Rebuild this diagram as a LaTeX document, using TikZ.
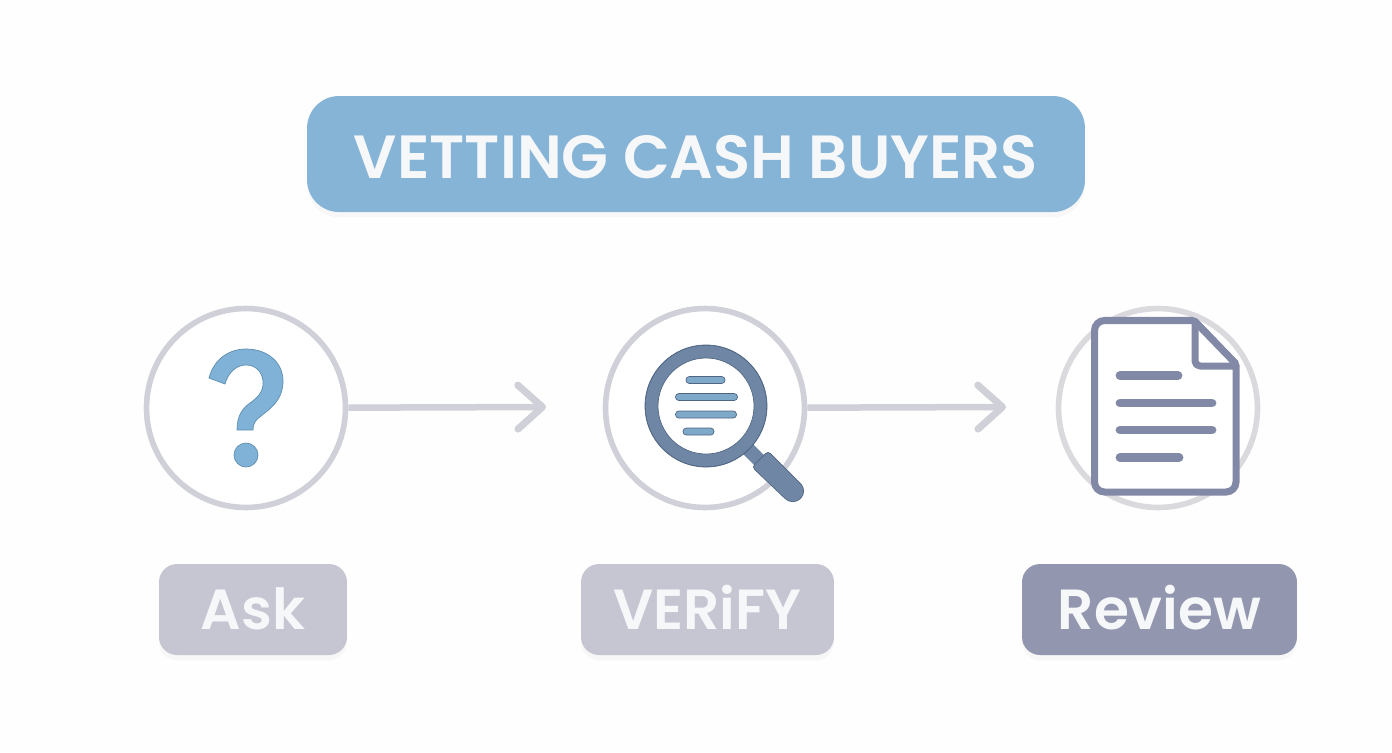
\documentclass[tikz,border=0pt]{standalone}
\usepackage{fontspec}
\setmainfont{Poppins}[BoldFont=Poppins SemiBold]
\usetikzlibrary{arrows.meta,shadows}
\definecolor{ringgrey}{HTML}{CFD0D8}
\definecolor{ringpale}{HTML}{DADADE}
\definecolor{skyblue}{HTML}{86B4D6}
\definecolor{qblue}{HTML}{7FB2D6}
\definecolor{qedge}{HTML}{5F8FB0}
\definecolor{lensblue}{HTML}{6F87A5}
\definecolor{lensedge}{HTML}{4F6583}
\definecolor{rowblue}{HTML}{7FA9C9}
\definecolor{docblue}{HTML}{8289A6}
\definecolor{paleslate}{HTML}{C5C6D2}
\definecolor{darkslate}{HTML}{9296AE}
\definecolor{lettercol}{HTML}{F6F7F9}
\definecolor{pagecol}{HTML}{FEFEFE}
\newcommand{\lowertext}[2]{\raisebox{-#1}[20pt][20pt]{#2}}
\tikzset{
	stepring/.style={circle,draw=ringgrey,line width=3.2pt,fill=white,minimum size=3.98cm,inner sep=0pt},
	stepline/.style={draw=ringgrey,line width=3.7pt,-{Straight Barb[length=14pt,width=25pt,line width=4pt,round]}},
	tag/.style={rounded corners=0.36cm,minimum height=1.82cm,inner sep=0pt,text=lettercol,font=\fontsize{32.2}{32.2}\selectfont\bfseries,
		drop shadow={opacity=0.05,shadow xshift=0pt,shadow yshift=-3pt}},
	rowlens/.style={draw=lensedge,line width=0.4pt,fill=rowblue,rounded corners=1.9pt},
	rowdoc/.style={draw=docblue,line width=5pt,line cap=round},
}
\begin{document}
\begin{tikzpicture}[x=0.02cm,y=-0.02cm]
	\fill[pagecol] (0,0) rectangle (1392,752);
	\useasboundingbox (0,0) rectangle (1392,752);
	%TITLE
	\node[tag,fill=skyblue,rounded corners=0.64cm,minimum width=15.56cm,minimum height=2.32cm,font=\fontsize{34.7}{34.7}\selectfont\bfseries] (title) at (696,154) {\lowertext{14.2pt}{VETTING CASH BUYERS}};
	%CIRCLES
	\node[stepring] (askring) at (246,408) {};
	\node[stepring] (verifyring) at (705,408) {};
	\node[stepring,draw=ringpale] (reviewring) at (1158,408) {};
	%ARROWS
	\coordinate (askend) at (546,407);
	\coordinate (verifyend) at (1006,407);
	\draw[stepline] (askring) -- (askend);
	\draw[stepline] (verifyring) -- (verifyend);
	%QUESTION MARK
	\filldraw[fill=qblue,draw=qedge,line width=0.4pt] (209,378) .. controls (214,359) and (229,349) .. (246,349)
		.. controls (268,349) and (284,363) .. (283,383) .. controls (282,402) and (268,410) .. (261,416)
		.. controls (255,420) and (253,424) .. (253,430) -- (237,430) .. controls (237,415) and (243,408) .. (250,403)
		.. controls (257,398) and (264,392) .. (263,381) .. controls (262,371) and (255,365) .. (246,365)
		.. controls (236,365) and (228,373) .. (225,384) -- cycle;
	\filldraw[fill=qblue,draw=qedge,line width=0.4pt] (246,455) circle (12);
	%MAGNIFIER
	\draw[lensblue,line width=8pt] (748,449) -- (762,463);
	\filldraw[fill=lensblue,draw=lensedge,line width=0.4pt,rounded corners=2pt] (752,467) -- (768,451) [rounded corners=6pt] -- (808,491) -- (793,506) [rounded corners=2pt] -- cycle;
	\filldraw[fill=lensedge,draw=lensedge] (706,406) circle (61);
	\fill[lensblue] (706,406) circle (60.3);
	\filldraw[fill=white,draw=lensedge,line width=0.4pt] (706,406) circle (48);
	\path[rowlens] (686,376.5) rectangle (725,383.5);
	\path[rowlens] (675.5,393.5) rectangle (737.5,400.5);
	\path[rowlens] (675.5,411) rectangle (736.5,418);
	\path[rowlens] (683,428) rectangle (714,435);
	%DOCUMENT
	\draw[docblue,line width=4pt,fill=white,rounded corners=0.2cm] (1094.5,320.5) [rounded corners=1pt] -- (1194,320.5) -- (1236,364) [rounded corners=0.2cm] -- (1236,492) -- (1094.5,492) -- cycle;
	\draw[docblue,line width=4pt,line join=round,fill=white,rounded corners=0.1cm] (1195,322) -- (1195,366) -- (1236,366);
	\draw[docblue,line width=4pt] (1194,320.5) -- (1236,364);
	\draw[rowdoc] (1120,375.5) -- (1178,375.5);
	\draw[rowdoc] (1120,403) -- (1212,403);
	\draw[rowdoc] (1120,430) -- (1212,430);
	\draw[rowdoc] (1120,457.5) -- (1179,457.5);
	%LABELS
	\node[tag,fill=paleslate,minimum width=3.76cm] (asktag) at (253,609.5) {\lowertext{11.6pt}{Ask}};
	\node[tag,fill=paleslate,minimum width=5.06cm] (verifytag) at (707.5,609.5) {\lowertext{11.6pt}{VERiFY}};
	\node[tag,fill=darkslate,minimum width=5.5cm] (reviewtag) at (1159.5,609.5) {\lowertext{11.6pt}{Review}};
\end{tikzpicture}
\end{document}
